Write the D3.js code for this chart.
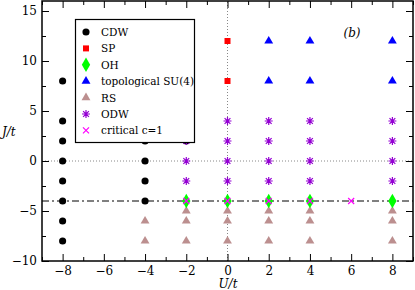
<!DOCTYPE html>
<html>
<head>
<meta charset="utf-8">
<script src="https://cdn.jsdelivr.net/npm/d3@7"></script>
<style>
  body { margin: 0; background: #fff; }
  svg { display: block; }
</style>
</head>
<body>
<div id="chart"></div>
<script>
// datos (U/t, J/t)
const cdwU = [-8, -8, -8, -8, -8, -8, -8, -8, -4, -4, -4, -4, -2];
const cdwJ = [8, 4, 2, 0, -2, -4, -6, -8, 2, 0, -2, -4, 2];
const spU = [0, 0];
const spJ = [12, 8];
const ohU = [-2, 0, 2, 4, 8];
const ohJ = [-4, -4, -4, -4, -4];
const topoU = [2, 2, 4, 4, 8, 8];
const topoJ = [12, 8, 12, 8, 12, 8];
const rsU = [-4, -4, -2, -2, -2, 0, 0, 0, 2, 2, 2, 4, 4, 4, 8, 8, 8];
const rsJ = [-6, -8, -5, -6, -8, -5, -6, -8, -5, -6, -8, -5, -6, -8, -5, -6, -8];
const odwU = [-2, -2, -2, 0, 0, 0, 0, 2, 2, 2, 2, 4, 4, 4, 4, 8, 8, 8, 8];
const odwJ = [2, 0, -2, 4, 2, 0, -2, 4, 2, 0, -2, 4, 2, 0, -2, 4, 2, 0, -2];
const critU = [-2, 0, 2, 4, 6];
const critJ = [-4, -4, -4, -4, -4];

const xTicks = [-8, -6, -4, -2, 0, 2, 4, 6, 8];
const yTicks = [-10, -5, 0, 5, 10, 15];
const legendLabels = ["CDW", "SP", "OH", "topological SU(4)", "RS", "ODW", "critical c=1"];

const FONT = "'DejaVu Serif', 'Liberation Serif', 'Noto Serif', 'Times New Roman', serif";
const W = 415, H = 290;
const x = d3.scaleLinear().domain([-9, 9]).range([42, 413]);
const y = d3.scaleLinear().domain([-10, 16]).range([261, 1]);

const svg = d3.select("#chart").append("svg")
    .attr("width", W).attr("height", H);

// líneas de referencia
svg.append("line")
    .attr("x1", x(-9)).attr("x2", x(9)).attr("y1", y(0)).attr("y2", y(0))
    .attr("stroke", "#888").attr("stroke-width", 1).attr("stroke-dasharray", "1,2");
svg.append("line")
    .attr("x1", x(0)).attr("x2", x(0)).attr("y1", y(-10)).attr("y2", y(16))
    .attr("stroke", "#888").attr("stroke-width", 1).attr("stroke-dasharray", "1,2");
svg.append("line")
    .attr("x1", x(-9)).attr("x2", x(9)).attr("y1", y(-4)).attr("y2", y(-4))
    .attr("stroke", "#000").attr("stroke-width", 1).attr("stroke-dasharray", "7,3,2,3");

// marcadores
const sym = (type, size) => d3.symbol().type(type).size(size)();
const asterisk = "M-4,0L4,0M0,-4L0,4M-2.9,-2.9L2.9,2.9M-2.9,2.9L2.9,-2.9";
const cross = "M-3,-3L3,3M-3,3L3,-3";

const series = [
    { U: rsU, J: rsJ, d: sym(d3.symbolTriangle, 34), fill: "#bc8f8f", stroke: "none" },
    { U: cdwU, J: cdwJ, d: sym(d3.symbolCircle, 40), fill: "#000", stroke: "none" },
    { U: spU, J: spJ, d: sym(d3.symbolSquare, 36), fill: "#ff0000", stroke: "none" },
    { U: topoU, J: topoJ, d: sym(d3.symbolTriangle, 34), fill: "#0000ff", stroke: "none" },
    { U: odwU, J: odwJ, d: asterisk, fill: "none", stroke: "#9400d3" },
    { U: ohU, J: ohJ, d: sym(d3.symbolDiamond, 60), fill: "#00ff00", stroke: "none" },
    { U: critU, J: critJ, d: cross, fill: "none", stroke: "#ff00ff" }
];

series.forEach(s => {
    svg.append("g").selectAll("path")
        .data(s.U.map((u, i) => [u, s.J[i]]))
        .enter().append("path")
        .attr("d", s.d)
        .attr("transform", d => "translate(" + x(d[0]) + "," + y(d[1]) + ")")
        .attr("fill", s.fill)
        .attr("stroke", s.stroke)
        .attr("stroke-width", 1.2);
});

// leyenda
const legendOrder = [1, 2, 5, 3, 0, 4, 6];
const lg = svg.append("g");
lg.append("rect")
    .attr("x", 75.5).attr("y", 19.5).attr("width", 119).attr("height", 123)
    .attr("fill", "#fff").attr("stroke", "#000").attr("stroke-width", 1.2);
legendLabels.forEach((lab, i) => {
    const s = series[legendOrder[i]];
    const yy = 32 + i * 16.4;
    lg.append("path")
        .attr("d", s.d)
        .attr("transform", "translate(86," + yy + ")")
        .attr("fill", s.fill).attr("stroke", s.stroke).attr("stroke-width", 1.2);
    lg.append("text")
        .attr("x", 101).attr("y", yy + 4)
        .attr("font-family", FONT)
        .attr("font-size", 10.5).text(lab);
});

// ejes con marcas hacia dentro
const oddU = d3.range(-9, 10, 1).filter(v => v % 2 !== 0);
const minorJ = [-7.5, -2.5, 2.5, 7.5, 12.5];
svg.append("g").attr("transform", "translate(0,261)")
    .call(d3.axisBottom(x).tickValues(xTicks).tickSizeInner(-7).tickSizeOuter(0).tickPadding(5)
        .tickFormat(d3.format("d")));
svg.append("g").attr("transform", "translate(0,261)")
    .call(d3.axisBottom(x).tickValues(oddU).tickSizeInner(-4).tickSizeOuter(0).tickFormat(""));
svg.append("g").attr("transform", "translate(0,1)")
    .call(d3.axisTop(x).tickValues(xTicks).tickSizeInner(-7).tickSizeOuter(0).tickFormat(""));
svg.append("g").attr("transform", "translate(0,1)")
    .call(d3.axisTop(x).tickValues(oddU).tickSizeInner(-4).tickSizeOuter(0).tickFormat(""));

svg.append("g").attr("transform", "translate(42,0)")
    .call(d3.axisLeft(y).tickValues(yTicks).tickSizeInner(-7).tickSizeOuter(0).tickPadding(5)
        .tickFormat(d3.format("d")));
svg.append("g").attr("transform", "translate(42,0)")
    .call(d3.axisLeft(y).tickValues(minorJ).tickSizeInner(-4).tickSizeOuter(0).tickFormat(""));
svg.append("g").attr("transform", "translate(413,0)")
    .call(d3.axisRight(y).tickValues(yTicks).tickSizeInner(-7).tickSizeOuter(0).tickFormat(""));
svg.append("g").attr("transform", "translate(413,0)")
    .call(d3.axisRight(y).tickValues(minorJ).tickSizeInner(-4).tickSizeOuter(0).tickFormat(""));

svg.selectAll(".domain").remove();
svg.selectAll(".tick line").attr("stroke", "#000");
svg.selectAll(".tick text").attr("font-size", 12).attr("fill", "#000")
    .attr("font-family", FONT);

svg.append("rect")
    .attr("x", 42).attr("y", 1).attr("width", 371).attr("height", 260)
    .attr("fill", "none").attr("stroke", "#000").attr("stroke-width", 1.5);

// títulos
svg.append("text").attr("x", 228).attr("y", 288).attr("text-anchor", "middle")
    .attr("font-family", FONT)
    .attr("font-size", 12).attr("font-style", "italic").text("U/t");
svg.append("text").attr("x", 2).attr("y", 136)
    .attr("font-family", FONT)
    .attr("font-size", 12).attr("font-style", "italic").text("J/t");
svg.append("text").attr("x", 352).attr("y", 37).attr("text-anchor", "middle")
    .attr("font-family", FONT)
    .attr("font-size", 12).attr("font-style", "italic").text("(b)");
</script>
</body>
</html>
